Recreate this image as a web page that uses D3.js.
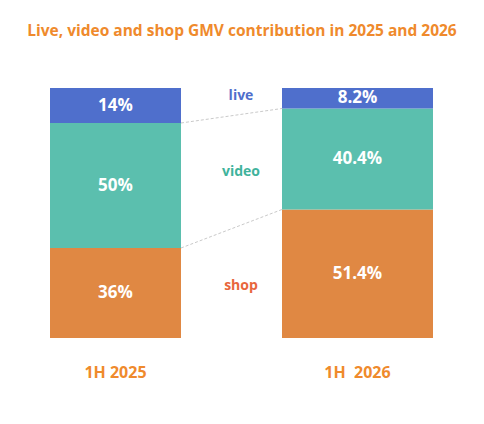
<!DOCTYPE html>
<html><head><meta charset="utf-8">
<script src="https://cdn.jsdelivr.net/npm/d3@7"></script>
<style>body{margin:0;background:#fff;font-family:"Open Sans",sans-serif;}</style>
</head><body><div id="chart"></div>
<script>
const periods = ["1H 2025", "1H  2026"];
const segments = ["shop", "video", "live"];
const shopValues = [36, 51.4];
const videoValues = [50, 40.4];
const liveValues = [14, 8.2];
const valueLabels = [["36%", "50%", "14%"], ["51.4%", "40.4%", "8.2%"]];
const colors = {live: "#4f6fcc", video: "#5bbfae", shop: "#e08843"};
const labelColors = {live: "#4f6fcc", video: "#3fb39c", shop: "#e8663c"};

const svg = d3.select("#chart").append("svg").attr("width", 484).attr("height", 424);

svg.append("text").attr("x", 242).attr("y", 36).attr("text-anchor", "middle")
    .attr("fill", "#ef8a2c").attr("font-size", 15.5).attr("font-weight", "bold")
    .text("Live, video and shop GMV contribution in 2025 and 2026");

const y = d3.scaleLinear().domain([0, 100]).range([338, 88]);
const barX = [[50, 181], [282, 433]];

const table = periods.map((p, i) => ({shop: shopValues[i], video: videoValues[i], live: liveValues[i]}));
const stacked = d3.stack().keys(segments)(table);

stacked.forEach((layer, si) => {
    layer.forEach((d, i) => {
        svg.append("rect")
            .attr("x", barX[i][0]).attr("width", barX[i][1] - barX[i][0])
            .attr("y", y(d[1])).attr("height", y(d[0]) - y(d[1]))
            .attr("fill", colors[layer.key]);
        svg.append("text")
            .attr("x", (barX[i][0] + barX[i][1]) / 2).attr("y", (y(d[0]) + y(d[1])) / 2 + 5)
            .attr("text-anchor", "middle").attr("fill", "#fff")
            .attr("font-size", 17).attr("font-weight", "bold")
            .text(valueLabels[i][si]);
    });
});

// connectors between boundaries
[0, 1].forEach(si => {
    const top = stacked[si];
    svg.append("line")
        .attr("x1", barX[0][1]).attr("y1", y(top[0][1]))
        .attr("x2", barX[1][0]).attr("y2", y(top[1][1]))
        .attr("stroke", "#bbb").attr("stroke-width", 0.8).attr("stroke-dasharray", "3,2");
});

const segLabelY = {live: 100, video: 176, shop: 290};
segments.forEach(k => {
    svg.append("text").attr("x", 241).attr("y", segLabelY[k]).attr("text-anchor", "middle")
        .attr("fill", labelColors[k]).attr("font-size", 14).attr("font-weight", "bold").text(k);
});

periods.forEach((p, i) => {
    svg.append("text").attr("x", (barX[i][0] + barX[i][1]) / 2).attr("y", 378)
        .attr("text-anchor", "middle").attr("fill", "#ef8a2c")
        .attr("font-size", 16).attr("font-weight", "bold")
        .style("white-space", "pre").text(p);
});
</script></body></html>
